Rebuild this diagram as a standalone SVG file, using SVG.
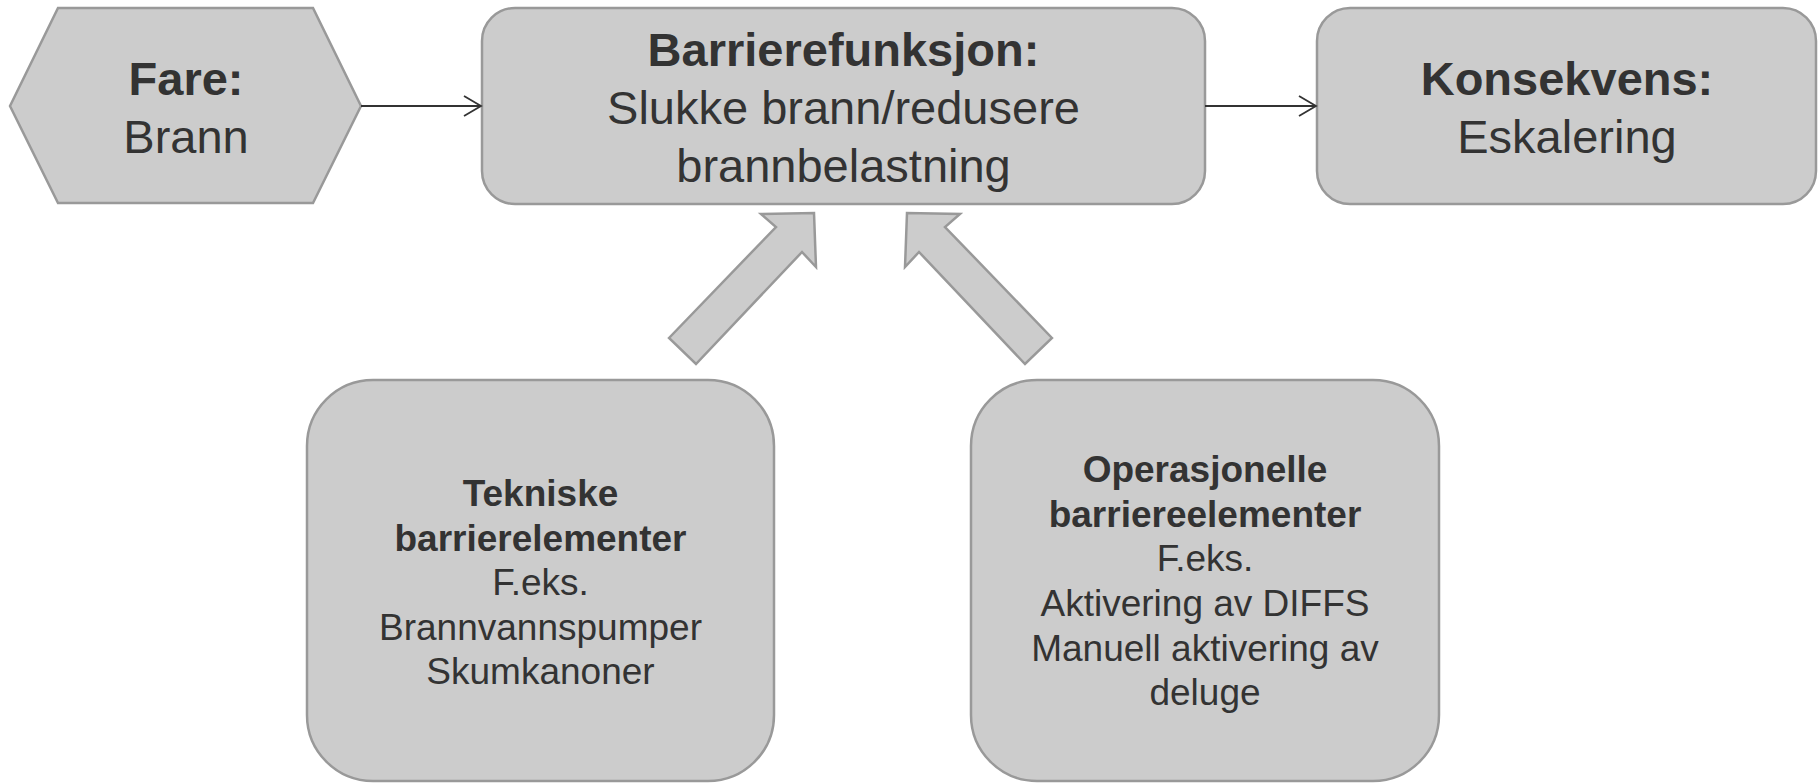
<svg xmlns="http://www.w3.org/2000/svg" width="1818" height="783" viewBox="0 0 1818 783">
  <style>
    .shape { fill: #cccccc; stroke: #999999; stroke-width: 2.5; }
    .txt { font-family: "Liberation Sans", Arial, sans-serif; fill: #333333; text-anchor: middle; }
    .big { font-size: 47px; }
    .small { font-size: 37px; }
    .b { font-weight: bold; }
    .conn { stroke: #333333; stroke-width: 1.8; fill: none; }
  </style>
  <defs>
    <marker id="open-arrow" markerUnits="userSpaceOnUse" markerWidth="22" markerHeight="24" refX="19" refY="11" orient="auto">
      <path d="M2,1 L19,11 L2,21" fill="none" stroke="#333333" stroke-width="1.8"/>
    </marker>
  </defs>

  <!-- hazard -->
  <g id="fare">
    <polygon class="shape" points="10,106 58,8 313,8 361,106 313,203 58,203"/>
    <text class="txt big b" x="186" y="95">Fare:</text>
    <text class="txt big" x="186" y="153">Brann</text>
  </g>

  <!-- barrier function -->
  <g id="barrierefunksjon">
    <rect class="shape" x="482" y="8" width="723" height="196" rx="33" ry="33"/>
    <text class="txt big b" x="843.5" y="66">Barrierefunksjon:</text>
    <text class="txt big" x="843.5" y="124">Slukke brann/redusere</text>
    <text class="txt big" x="843.5" y="182">brannbelastning</text>
  </g>

  <!-- consequence -->
  <g id="konsekvens">
    <rect class="shape" x="1317" y="8" width="499" height="196" rx="33" ry="33"/>
    <text class="txt big b" x="1567" y="95">Konsekvens:</text>
    <text class="txt big" x="1567" y="153">Eskalering</text>
  </g>

  <!-- technical barrier elements -->
  <g id="tekniske">
    <rect class="shape" x="307" y="380" width="467" height="401" rx="66" ry="66"/>
    <text class="txt small b" x="540.5" y="506">Tekniske</text>
    <text class="txt small b" x="540.5" y="550.5">barrierelementer</text>
    <text class="txt small" x="540.5" y="595">F.eks.</text>
    <text class="txt small" x="540.5" y="639.5">Brannvannspumper</text>
    <text class="txt small" x="540.5" y="684">Skumkanoner</text>
  </g>

  <!-- operational barrier elements -->
  <g id="operasjonelle">
    <rect class="shape" x="971" y="380" width="468" height="401" rx="66" ry="66"/>
    <text class="txt small b" x="1205" y="482">Operasjonelle</text>
    <text class="txt small b" x="1205" y="526.5">barriereelementer</text>
    <text class="txt small" x="1205" y="571">F.eks.</text>
    <text class="txt small" x="1205" y="616">Aktivering av DIFFS</text>
    <text class="txt small" x="1205" y="660.5">Manuell aktivering av</text>
    <text class="txt small" x="1205" y="705">deluge</text>
  </g>

  <!-- connectors -->
  <g id="connectors">
    <line class="conn" x1="361" y1="106" x2="481" y2="106" marker-end="url(#open-arrow)"/>
    <line class="conn" x1="1205" y1="106" x2="1316" y2="106" marker-end="url(#open-arrow)"/>
    <polygon class="shape" points="669,338 776,227 761,214 814,213 816,267 802,252 696,364"/>
    <polygon class="shape" points="1052,338 945,227 960,214 907,213 905,267 919,252 1025,364"/>
  </g>
</svg>
